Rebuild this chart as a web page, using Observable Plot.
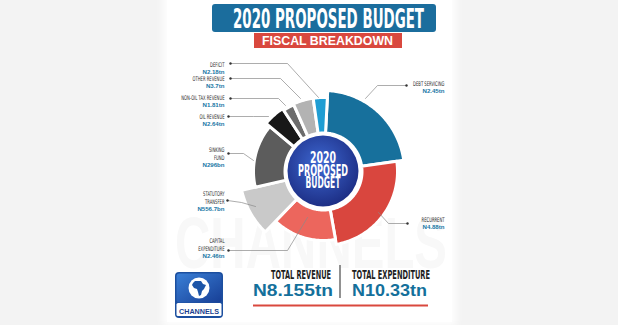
<!DOCTYPE html>
<html><head><meta charset="utf-8">
<script src="https://cdn.jsdelivr.net/npm/d3@7"></script>
<script src="https://cdn.jsdelivr.net/npm/@observablehq/plot@0.6"></script>
<style>
html,body{margin:0;padding:0;background:#f3f3f3;}
#wrap{position:relative;width:618px;height:325px;overflow:hidden;background:#f3f3f3;}
#card{position:absolute;left:167px;top:-10px;width:285px;height:332px;background:#fff;box-shadow:0 0 8px 4px rgba(255,255,255,0.95);}
#under,#chart,#over{position:absolute;left:0;top:0;}
#over,#under{pointer-events:none;}
</style></head>
<body>
<div id="wrap"><div id="card"></div><svg id="under" width="618" height="325"></svg><div id="chart"></div><svg id="over" width="618" height="325"></svg></div>
<script>
// ---------- DATA ----------
const titleText = "2020 PROPOSED BUDGET";
const subtitleText = "FISCAL BREAKDOWN";
const centerLines = ["2020", "PROPOSED", "BUDGET"];
const categories = ["Debt Servicing", "Recurrent", "Capital Expenditure", "Statutory Transfer", "Sinking Fund", "Oil Revenue", "Non-Oil Tax Revenue", "Other Revenue", "Deficit"];
const labelTexts = ["DEBT SERVICING", "RECURRENT", "CAPITAL\nEXPENDITURE", "STATUTORY\nTRANSFER", "SINKING\nFUND", "OIL REVENUE", "NON-OIL TAX REVENUE", "OTHER REVENUE", "DEFICIT"];
const amounts = ["N2.45tn", "N4.88tn", "N2.46tn", "N556.7bn", "N296bn", "N2.64tn", "N1.81tn", "N3.7tn", "N2.18tn"];
// arc of each slice as drawn in the infographic (degrees, clockwise from Debt Servicing)
const sliceSpan = [79, 88, 54, 33, 53, 17, 9, 16, 11];
// outward reach of each slice as drawn
const sliceReach = [81, 74, 69, 84, 70, 75, 73, 74, 74];
const totalLabels = ["TOTAL REVENUE", "TOTAL EXPENDITURE"];
const totalValues = ["N8.155tn", "N10.33tn"];
const brand = "CHANNELS";

// ---------- STYLE / LAYOUT ----------
const palette = ["#17709c", "#d9463e", "#ec665d", "#c9c9c9", "#5c5c5c", "#181818", "#6c6c6c", "#b3b3b3", "#1f9dd3"];
const startDeg = 3, innerR = 38.5, lineStep = 7.5;
const labelLayout = [
  {tx: 121, ty: -87.75, ax: 83, ay: -86, kx: 54, ky: -86, ex: 42, ey: -73},
  {tx: 121, ty: 48.25, ax: 84, ay: 52, kx: 65, ky: 52, ex: 55, ey: 41},
  {tx: -99, ty: 69.5, ax: -95, ay: 79, kx: -36, ky: 79, ex: -16, ey: 46},
  {tx: -99, ty: 22.5, ax: -96, ay: 29, kx: -82, ky: 31, ex: -68, ey: 35},
  {tx: -99, ty: -21.5, ax: -95, ay: -18, kx: -80, ky: -18, ex: -70, ey: -11},
  {tx: -99, ty: -54.75, ax: -95, ay: -55, kx: -70, ky: -55, ex: -55, ey: -55},
  {tx: -99, ty: -73.75, ax: -93, ay: -73, kx: -45, ky: -73, ex: -38, ey: -66},
  {tx: -99, ty: -92.75, ax: -93, ay: -93, kx: -43, ky: -93, ex: -23, ey: -73},
  {tx: -99, ty: -106.75, ax: -93, ay: -108, kx: -36, ky: -108, ex: -5, ey: -74}
];

// ---------- BUILD ----------
const rad = Math.PI / 180;
const arcs = d3.pie().sort(null).value(d => d).startAngle(startDeg * rad).endAngle(startDeg * rad + 2 * Math.PI)(sliceSpan);
const slicePts = [];
arcs.forEach((a, i) => {
  const r = sliceReach[i], cat = categories[i];
  const n = Math.max(2, Math.ceil((a.endAngle - a.startAngle) / rad));
  const ang = k => a.startAngle + (a.endAngle - a.startAngle) * k / n;
  for (let k = 0; k <= n; k++) slicePts.push({cat, x: r * Math.sin(ang(k)), y: -r * Math.cos(ang(k))});
  for (let k = n; k >= 0; k--) slicePts.push({cat, x: innerR * Math.sin(ang(k)), y: -innerR * Math.cos(ang(k))});
});
const leaderPts = [];
labelLayout.forEach((L, i) => {
  leaderPts.push({cat: categories[i], x: L.ax, y: L.ay}, {cat: categories[i], x: L.kx, y: L.ky}, {cat: categories[i], x: L.ex, y: L.ey});
});
const labelRows = [], valueRows = [];
labelTexts.forEach((t, i) => {
  const L = labelLayout[i], lines = t.split("\n");
  lines.forEach((s, j) => labelRows.push({x: L.tx, y: L.ty + j * lineStep, text: s}));
  valueRows.push({x: L.tx, y: L.ty + lines.length * lineStep, text: amounts[i]});
});
const tips = labelLayout.map((L, i) => ({x: L.ax, y: L.ay, cat: categories[i]}));

const chart = Plot.plot({
  width: 618, height: 325, margin: 0,
  style: {background: "transparent", overflow: "visible"},
  x: {domain: [-323, 295], range: [0, 618], axis: null},
  y: {domain: [-171, 154], range: [0, 325], axis: null},
  color: {domain: categories, range: palette},
  marks: [
    Plot.line(slicePts, {x: "x", y: "y", z: "cat", fill: "cat", stroke: "white", strokeWidth: 3, curve: "linear-closed"}),
    Plot.line(leaderPts, {x: "x", y: "y", z: "cat", stroke: "#8a8a8a", strokeWidth: 0.7}),
    Plot.dot(tips, {x: "x", y: "y", r: 1.2, fill: "#333", stroke: null}),
    Plot.text(labelRows, {x: "x", y: "y", text: "text", textAnchor: "end", fontSize: 6.3, fontFamily: "DejaVu Sans Condensed", fill: "#2a2a2a"}),
    Plot.text(valueRows, {x: "x", y: "y", text: "text", textAnchor: "end", fontSize: 6.1, fontWeight: "bold", fontFamily: "Liberation Sans", fill: "#1a78a6"})
  ]
});
document.getElementById("chart").appendChild(chart);
chart.querySelectorAll('g[font-family="DejaVu Sans Condensed"] text').forEach(t => {
  t.setAttribute("transform", (t.getAttribute("transform") || "") + " scale(0.66,1)");
});

// ---------- DECORATION ----------
const under = d3.select("#under");
under.append("text").attr("x", 175).attr("y", 268).attr("font-family", "Liberation Sans").attr("font-weight", "bold")
  .attr("font-size", 72).attr("textLength", 272).attr("lengthAdjust", "spacingAndGlyphs").attr("fill", "#f8f8f8").text(brand);

const over = d3.select("#over");
const defs = over.append("defs");
const rg = defs.append("radialGradient").attr("id", "cg").attr("cx", "45%").attr("cy", "40%").attr("r", "60%");
rg.append("stop").attr("offset", "0%").attr("stop-color", "#3e68d2");
rg.append("stop").attr("offset", "100%").attr("stop-color", "#1d2f86");
const lg = defs.append("linearGradient").attr("id", "lg").attr("x1", 0).attr("y1", 0).attr("x2", 1).attr("y2", 1);
lg.append("stop").attr("offset", "0%").attr("stop-color", "#3a7fd6");
lg.append("stop").attr("offset", "100%").attr("stop-color", "#173f96");

// title
over.append("rect").attr("x", 212).attr("y", 4).attr("width", 224).attr("height", 28).attr("rx", 3).attr("fill", "#1b6d9d");
over.append("text").attr("x", 328.5).attr("y", 27.5).attr("text-anchor", "middle").attr("font-family", "DejaVu Sans Condensed")
  .attr("font-weight", "bold").attr("font-size", 26).attr("textLength", 191).attr("lengthAdjust", "spacingAndGlyphs").attr("fill", "#fff").text(titleText);
over.append("rect").attr("x", 254).attr("y", 33).attr("width", 148).attr("height", 15).attr("fill", "#d9483e");
over.append("text").attr("x", 327.5).attr("y", 45).attr("text-anchor", "middle").attr("font-family", "Liberation Sans")
  .attr("font-weight", "bold").attr("font-size", 12.3).attr("textLength", 131).attr("lengthAdjust", "spacingAndGlyphs").attr("fill", "#fff").text(subtitleText);

// centre disc
const cx = 323, cy = 171;
over.append("circle").attr("cx", cx).attr("cy", cy).attr("r", 38.5).attr("fill", "#fff");
over.append("circle").attr("cx", cx).attr("cy", cy).attr("r", 35.5).attr("fill", "url(#cg)");
const cBase = [163, 176, 188], cLen = [26, 50, 35];
centerLines.forEach((s, i) => over.append("text").attr("x", cx).attr("y", cBase[i]).attr("text-anchor", "middle")
  .attr("font-family", "DejaVu Sans Condensed").attr("font-weight", "bold").attr("font-size", 16)
  .attr("textLength", cLen[i]).attr("lengthAdjust", "spacingAndGlyphs").attr("fill", "#fff").text(s));

// totals
const tx = [331, 352], ta = ["end", "start"], tl = [60, 78], vl = [80, 75];
totalLabels.forEach((s, i) => {
  over.append("text").attr("x", tx[i]).attr("y", 278.5).attr("text-anchor", ta[i]).attr("font-family", "DejaVu Sans Condensed")
    .attr("font-weight", "bold").attr("font-size", 12.5).attr("textLength", tl[i]).attr("lengthAdjust", "spacingAndGlyphs").attr("fill", "#1e1e1e").text(s);
  over.append("text").attr("x", i ? 352 : 333).attr("y", 295.5).attr("text-anchor", ta[i]).attr("font-family", "Liberation Sans")
    .attr("font-weight", "bold").attr("font-size", 17).attr("textLength", vl[i]).attr("lengthAdjust", "spacingAndGlyphs").attr("fill", "#14709b").text(totalValues[i]);
});
over.append("line").attr("x1", 340).attr("x2", 340).attr("y1", 265).attr("y2", 298).attr("stroke", "#6d6d6d").attr("stroke-width", 1.5);
over.append("line").attr("x1", 253).attr("x2", 428).attr("y1", 305.5).attr("y2", 305.5).attr("stroke", "#d9483e").attr("stroke-width", 2);

// logo
over.append("rect").attr("x", 175).attr("y", 272).attr("width", 48).attr("height", 46).attr("rx", 4).attr("fill", "#1c4f9f");
over.append("rect").attr("x", 176.5).attr("y", 273.5).attr("width", 45).attr("height", 29).attr("rx", 3).attr("fill", "url(#lg)");
over.append("rect").attr("x", 176.5).attr("y", 303).attr("width", 45).attr("height", 13).attr("rx", 1.5).attr("fill", "#fff");
over.append("circle").attr("cx", 199).attr("cy", 288).attr("r", 10.5).attr("fill", "#fff");
over.append("path").attr("transform", "translate(199,288)")
  .attr("d", "M-4,-7 L2,-7 L4,-4 L7,-3 L5,1 L3,3 L2,7 L0,8 L-1,4 L-2,1 L-5,0 L-7,-3 L-6,-5 Z").attr("fill", "#1d55a8");
over.append("text").attr("x", 199).attr("y", 313.5).attr("text-anchor", "middle").attr("font-family", "Liberation Sans")
  .attr("font-weight", "bold").attr("font-size", 7.5).attr("textLength", 40).attr("lengthAdjust", "spacingAndGlyphs").attr("fill", "#1a3f8f").text(brand);
</script>
</body></html>
